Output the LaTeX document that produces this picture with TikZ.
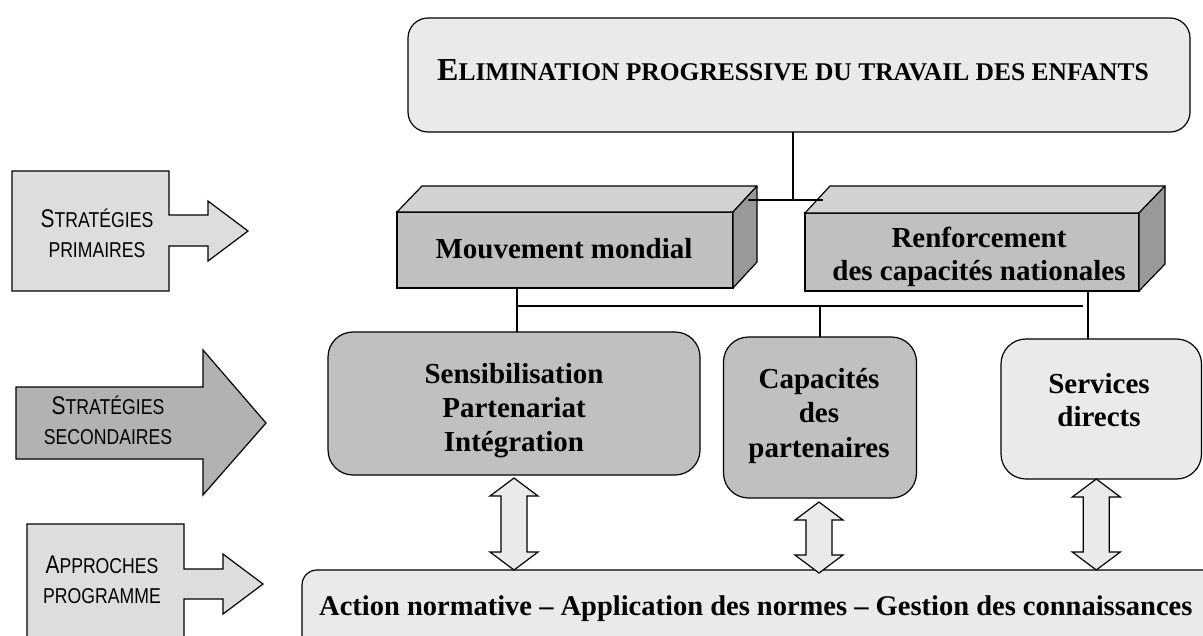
\documentclass[tikz,border=0pt]{standalone}
\usepackage{fontspec}
\setmainfont{Liberation Serif}
\newfontfamily\labfont[FakeStretch=0.82]{Liberation Sans}
\usetikzlibrary{calc}
\definecolor{lightbox}{HTML}{EAEAEA}
\definecolor{midgray}{HTML}{C0C0C0}
\definecolor{topgray}{HTML}{D2D2D2}
\definecolor{sidegray}{HTML}{999999}
\definecolor{arrlight}{HTML}{DDDDDD}
\definecolor{arrdark}{HTML}{B2B2B2}
\newcommand\mlines[1]{\begin{tabular}[t]{@{}c@{}}#1\end{tabular}}
\newcommand\capfirst[1]{{\fontsize{25.5}{30}\selectfont #1}}
\newcommand\dblarrow[2]{\path[dbl] let \p1=(#1), \p2=(#2) in
  (\x1,\y1) -- (\x1+24pt,\y1-18pt) -- (\x1+13pt,\y1-18pt) -- (\x1+13pt,\y2+18pt)
  -- (\x1+24pt,\y2+18pt) -- (\x1,\y2) -- (\x1-24pt,\y2+18pt) -- (\x1-13pt,\y2+18pt)
  -- (\x1-13pt,\y1-18pt) -- (\x1-24pt,\y1-18pt) -- cycle;}
\tikzset{
  conn/.style={line width=1.2pt, draw=black},
  mybox/.style={draw=black, line width=1.2pt, rounded corners=25pt, inner sep=0pt, outer sep=0pt},
  frontface/.style={draw=black, line width=1.2pt, fill=midgray, inner sep=0pt, outer sep=0pt},
  topface/.style={draw=black, line width=1.2pt, fill=topgray, line join=round},
  sideface/.style={draw=black, line width=1.2pt, fill=sidegray, line join=round},
  dbl/.style={draw=black, line width=1.2pt, fill=lightbox, line join=miter},
  leftarr/.style={draw=black, line width=1.2pt, line join=miter},
  maintext/.style={font=\bfseries\fontsize{29}{34}\selectfont, inner sep=0pt},
  labtext/.style={font=\labfont\fontsize{21.5}{30}\selectfont, inner sep=0pt},
}
\begin{document}
\begin{tikzpicture}[x=1pt,y=-1pt]
\useasboundingbox (0,0) rectangle (1203,635);
\clip (0,0) rectangle (1203,635);
\fill[white] (0,0) rectangle (1203,635);

% left arrows
\path[leftarr, fill=arrlight] (12,171) -- (169,171) -- (169,215) -- (208,215) -- (208,201) -- (248,231)
  -- (208,261) -- (208,246) -- (169,246) -- (169,291) -- (12,291) -- cycle;
\node[labtext, anchor=base] (lab1) at (97,227) {\mlines{\capfirst{S}TRATÉGIES\\PRIMAIRES}};

\path[leftarr, fill=arrdark] (16,387) -- (203,387) -- (203,350) -- (266,423) -- (203,495)
  -- (203,459) -- (16,459) -- cycle;
\node[labtext, anchor=base] (lab2) at (108,414) {\mlines{\capfirst{S}TRATÉGIES\\SECONDAIRES}};

\path[leftarr, fill=arrlight] (27,524) -- (184,524) -- (184,569) -- (223,569) -- (223,554) -- (263,584)
  -- (223,614) -- (223,599) -- (184,599) -- (184,650) -- (27,650) -- cycle;
\node[labtext, anchor=base] (lab3) at (102,573) {\mlines{\capfirst{A}PPROCHES\\PROGRAMME}};

% title
\node[mybox, fill=lightbox, rounded corners=20pt, minimum width=782pt, minimum height=114pt] (title) at (799,75) {};
\node[anchor=base, inner sep=0pt, font=\bfseries] (titletext) at (793,80)
  {{\fontsize{32}{34}\selectfont E}{\fontsize{25.5}{34}\selectfont LIMINATION PROGRESSIVE DU TRAVAIL DES ENFANTS}};

% 3D boxes
\node[frontface, minimum width=336pt, minimum height=76pt] (mm) at (565,250) {};
\path[topface] (mm.north west) -- ++(25,-26) -- ++(335,0) -- (mm.north east) -- cycle;
\path[sideface] (mm.north east) -- ++(24,-26) -- ++(0,76) -- (mm.south east) -- cycle;
\node[maintext, anchor=base] (mmtext) at (564,258) {Mouvement mondial};

\node[frontface, minimum width=334pt, minimum height=78pt] (rf) at (972,252) {};
\path[topface] (rf.north west) -- ++(25,-27) -- ++(335,0) -- (rf.north east) -- cycle;
\path[sideface] (rf.north east) -- ++(26,-27) -- ++(0,78) -- (rf.south east) -- cycle;
\node[maintext, anchor=base, font=\bfseries\fontsize{29}{33}\selectfont] (rftext) at (979,247)
  {\mlines{Renforcement\\des capacités nationales}};

% secondary boxes
\node[mybox, fill=midgray, minimum width=372pt, minimum height=143pt] (sens) at (514,403.5) {};
\node[maintext, anchor=base] (senstext) at (514,383) {\mlines{Sensibilisation\\Partenariat\\Intégration}};

\node[mybox, fill=midgray, minimum width=193pt, minimum height=161pt] (cap) at (820,417.5) {};
\node[maintext, anchor=base, font=\bfseries\fontsize{29}{34.5}\selectfont] (captext) at (819,388)
  {\mlines{Capacités\\des\\partenaires}};

\node[mybox, fill=lightbox, minimum width=200.5pt, minimum height=140pt] (serv) at (1101.25,409) {};
\node[maintext, anchor=base, font=\bfseries\fontsize{29}{33}\selectfont] (servtext) at (1099,393)
  {\mlines{Services\\directs}};

% bottom box
\node[mybox, fill=lightbox, rounded corners=15pt, minimum width=938pt, minimum height=110pt] (norm) at (771,625) {};
\node[inner sep=0pt, anchor=base west, font=\bfseries\fontsize{28.5}{34}\selectfont] (normtext) at (319,615)
  {Action normative – Application des normes – Gestion des connaissances};

% connectors
\coordinate (j1) at (793,200);
\coordinate (mmR) at (748,200);
\coordinate (rfT) at (823,200);
\draw[conn] (title.south -| j1) -- (j1);
\draw[conn] (mmR) -- (rfT);
\coordinate (h1) at (517,306);
\coordinate (h2) at (1083,306);
\coordinate (v3) at (1088,306);
\draw[conn] (mm.south -| h1) -- (sens.north -| h1);
\draw[conn] (h1) -- (h2);
\draw[conn] (h1 -| cap.north) -- (cap.north);
\draw[conn] (rf.south -| v3) -- (serv.north -| v3);

% double arrows
\coordinate (a1t) at ($(sens.south)+(0,3)$);
\coordinate (a1b) at ($(sens.south |- norm.north)+(0,0)$);
\coordinate (a2t) at ($(cap.south)+(-1,4)$);
\coordinate (a2b) at ($(cap.south |- norm.north)+(-1,3)$);
\coordinate (a3t) at ($(serv.south)+(-5,0)$);
\coordinate (a3b) at ($(serv.south |- norm.north)+(-5,0)$);
\dblarrow{a1t}{a1b}
\dblarrow{a2t}{a2b}
\dblarrow{a3t}{a3b}
\end{tikzpicture}
\end{document}
